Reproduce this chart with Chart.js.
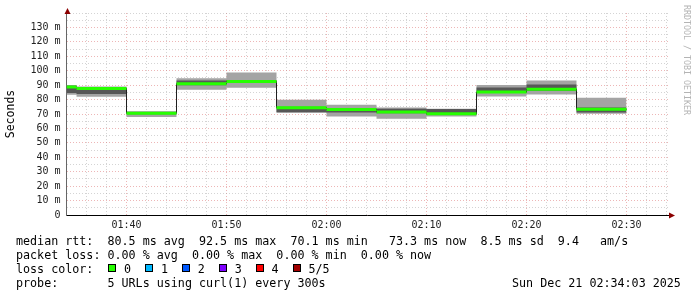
<!DOCTYPE html>
<html>
<head>
<meta charset="utf-8">
<script src="https://cdn.jsdelivr.net/npm/chart.js@4"></script>
<style>
  body { margin: 0; background: #fff; }
  #wrap { position: relative; width: 697px; height: 297px; overflow: hidden; }
  #chart { position: absolute; left: 0; top: 0; }
  .txt { position: absolute; font-family: "DejaVu Sans Mono", monospace; font-size: 11.7px; line-height: 14px; color: #000; white-space: pre; }
  .box { position: absolute; width: 6px; height: 6px; border: 1px solid #000; }
  #credit { position: absolute; left: 682px; top: 5px; font-family: "DejaVu Sans Mono", monospace; font-size: 8.3px; line-height: 10px; color: #b4b4b4; writing-mode: vertical-rl; white-space: pre; }
</style>
</head>
<body>
<div id="wrap">
  <canvas id="chart" width="697" height="297"></canvas>
  <div id="legend"></div>
  <div id="credit">RRDTOOL / TOBI OETIKER</div>
</div>
<script>
// time axis in minutes after midnight, one bin = 5 minutes (300s)
const binStart = [94, 95, 100, 105, 110, 115, 120, 125, 130, 135, 140, 145];
const binEnd = 150;

// values in ms
const medianRtt      = [88.7, 87.7, 70.6, 91.0, 92.5, 74.3, 73.1, 71.4, 70.1, 85.2, 87.2, 73.3];
const smokeLow       = [83.3, 81.9, 67.9, 86.8, 88.2, 70.8, 68.3, 66.7, 68.3, 82.2, 83.5, 70.1];
const smokeInnerLow  = [84.5, 83.8, 69.8, 90.0, 91.5, 71.2, 71.0, 70.5, 69.3, 84.5, 86.2, 71.0];
const smokeInnerHigh = [89.5, 88.2, 71.5, 93.3, 93.5, 75.0, 74.0, 73.6, 73.4, 88.4, 90.5, 74.5];
const smokeHigh      = [90.1, 89.1, 71.8, 94.7, 98.8, 79.9, 76.4, 74.5, 73.6, 90.1, 93.3, 81.3];

const xLabelMinutes = [100, 110, 120, 130, 140, 150];
const xLabels = ["01:40", "01:50", "02:00", "02:10", "02:20", "02:30"];
const yLabelValues = [0, 10, 20, 30, 40, 50, 60, 70, 80, 90, 100, 110, 120, 130];
const yLabels = ["0", "10 m", "20 m", "30 m", "40 m", "50 m", "60 m", "70 m", "80 m", "90 m", "100 m", "110 m", "120 m", "130 m"];

const lossLabels = ["0", "1", "2", "3", "4", "5/5"];
const lossColors = ["#26ff00", "#00b8ff", "#0059ff", "#7e00ff", "#ff0000", "#a10000"];

const legendLines = [
  "median rtt:  80.5 ms avg  92.5 ms max  70.1 ms min   73.3 ms now  8.5 ms sd  9.4   am/s",
  "packet loss: 0.00 % avg  0.00 % max  0.00 % min  0.00 % now",
  "loss color:",
  "probe:       5 URLs using curl(1) every 300s"
];
const stampText = "Sun Dec 21 02:34:03 2025";

function steps(values) {
  const pts = binStart.map((x, i) => ({ x: x, y: values[i] }));
  pts.push({ x: binEnd, y: values[values.length - 1] });
  return pts;
}

function segments(values) {
  const pts = [];
  binStart.forEach((x, i) => {
    const end = i + 1 < binStart.length ? binStart[i + 1] : binEnd;
    pts.push({ x: x, y: values[i] }, { x: end, y: values[i] }, { x: end, y: null });
  });
  return pts;
}

const minorX = [];
for (let m = 94; m <= 154; m += 2) minorX.push(m);
const minorY = [];
for (let v = 0; v <= 140; v += 5) minorY.push(v);

const majorGrid = "rgba(220,110,110,0.5)";
const minorGrid = "rgba(160,160,160,0.45)";
const tickFont = { family: "DejaVu Sans Mono", size: 10 };

const arrows = {
  id: "arrows",
  afterDraw(chart) {
    const { ctx, chartArea: a } = chart;
    const l = Math.round(a.left), r = Math.round(a.right);
    ctx.save();
    ctx.fillStyle = "#8b0000";
    ctx.beginPath();
    ctx.moveTo(l + 0.5, a.top - 5);
    ctx.lineTo(l - 2.5, a.top + 1);
    ctx.lineTo(l + 3.5, a.top + 1);
    ctx.fill();
    ctx.beginPath();
    ctx.moveTo(r + 6, a.bottom + 0.5);
    ctx.lineTo(r, a.bottom - 2.5);
    ctx.lineTo(r, a.bottom + 3.5);
    ctx.fill();
    ctx.restore();
  }
};

// value of a point is held until the next point
const base = { stepped: "before", borderWidth: 0, pointRadius: 0, fill: false };

new Chart(document.getElementById("chart"), {
  type: "line",
  data: {
    datasets: [
      { ...base, data: steps(smokeLow), order: 10 },
      { ...base, data: steps(smokeHigh), fill: "-1", backgroundColor: "#a4a4a4", order: 9 },
      { ...base, data: steps(smokeInnerLow), order: 8 },
      { ...base, data: steps(smokeInnerHigh), fill: "-1", backgroundColor: "#575757", order: 7 },
      { ...base, data: steps(medianRtt), borderWidth: 1, borderColor: "#202020", order: 2 },
      { data: segments(medianRtt), borderWidth: 3, borderColor: lossColors[0], borderCapStyle: "butt",
        pointRadius: 0, fill: false, spanGaps: false, order: 1 }
    ]
  },
  options: {
    responsive: false,
    animation: false,
    events: [],
    // half pixel offset keeps the 1px step lines crisp
    layout: { padding: { top: 13, right: 28.5, left: 0.5, bottom: 0 } },
    plugins: { legend: { display: false }, tooltip: { enabled: false } },
    scales: {
      x: {
        type: "linear",
        min: 94,
        max: 154.2,
        afterFit: (s) => { s.height = 82; },
        afterBuildTicks: (s) => { s.ticks = minorX.map((v) => ({ value: v })); },
        ticks: {
          autoSkip: false,
          maxRotation: 0,
          padding: 4,
          color: "#222",
          font: tickFont,
          callback: (v) => { const i = xLabelMinutes.indexOf(v); return i >= 0 ? xLabels[i] : ""; }
        },
        grid: {
          drawTicks: false,
          color: (c) => (xLabelMinutes.includes(c.tick.value) ? majorGrid : minorGrid)
        },
        border: { color: "#000", dash: [1, 2] }
      },
      y: {
        min: 0,
        max: 140,
        afterFit: (s) => { s.width = 66; },
        afterBuildTicks: (s) => { s.ticks = minorY.map((v) => ({ value: v })); },
        title: { display: true, text: "Seconds", color: "#000", font: { family: "DejaVu Sans Mono", size: 11.5 }, padding: { top: 4, bottom: 4 } },
        ticks: {
          autoSkip: false,
          padding: 6,
          color: "#222",
          font: tickFont,
          callback: (v) => { const i = yLabelValues.indexOf(v); return i >= 0 ? yLabels[i] : ""; }
        },
        grid: {
          drawTicks: false,
          color: (c) => (yLabelValues.includes(c.tick.value) ? majorGrid : minorGrid)
        },
        border: { color: "#666", dash: [1, 2] }
      }
    }
  },
  plugins: [arrows]
});

// text legend below the graph
const legend = document.getElementById("legend");
legendLines.forEach((line, i) => {
  const d = document.createElement("div");
  d.className = "txt";
  d.style.left = "16px";
  d.style.top = (234 + i * 14) + "px";
  d.textContent = line;
  legend.appendChild(d);
});
lossLabels.forEach((lab, i) => {
  const left = 108 + i * 36.9;
  const b = document.createElement("div");
  b.className = "box";
  b.style.left = left + "px";
  b.style.top = "264px";
  b.style.background = lossColors[i];
  legend.appendChild(b);
  const t = document.createElement("div");
  t.className = "txt";
  t.style.left = (left + 16) + "px";
  t.style.top = "262px";
  t.textContent = lab;
  legend.appendChild(t);
});
const stamp = document.createElement("div");
stamp.className = "txt";
stamp.style.left = "512px";
stamp.style.top = "276px";
stamp.textContent = stampText;
legend.appendChild(stamp);
</script>
</body>
</html>
